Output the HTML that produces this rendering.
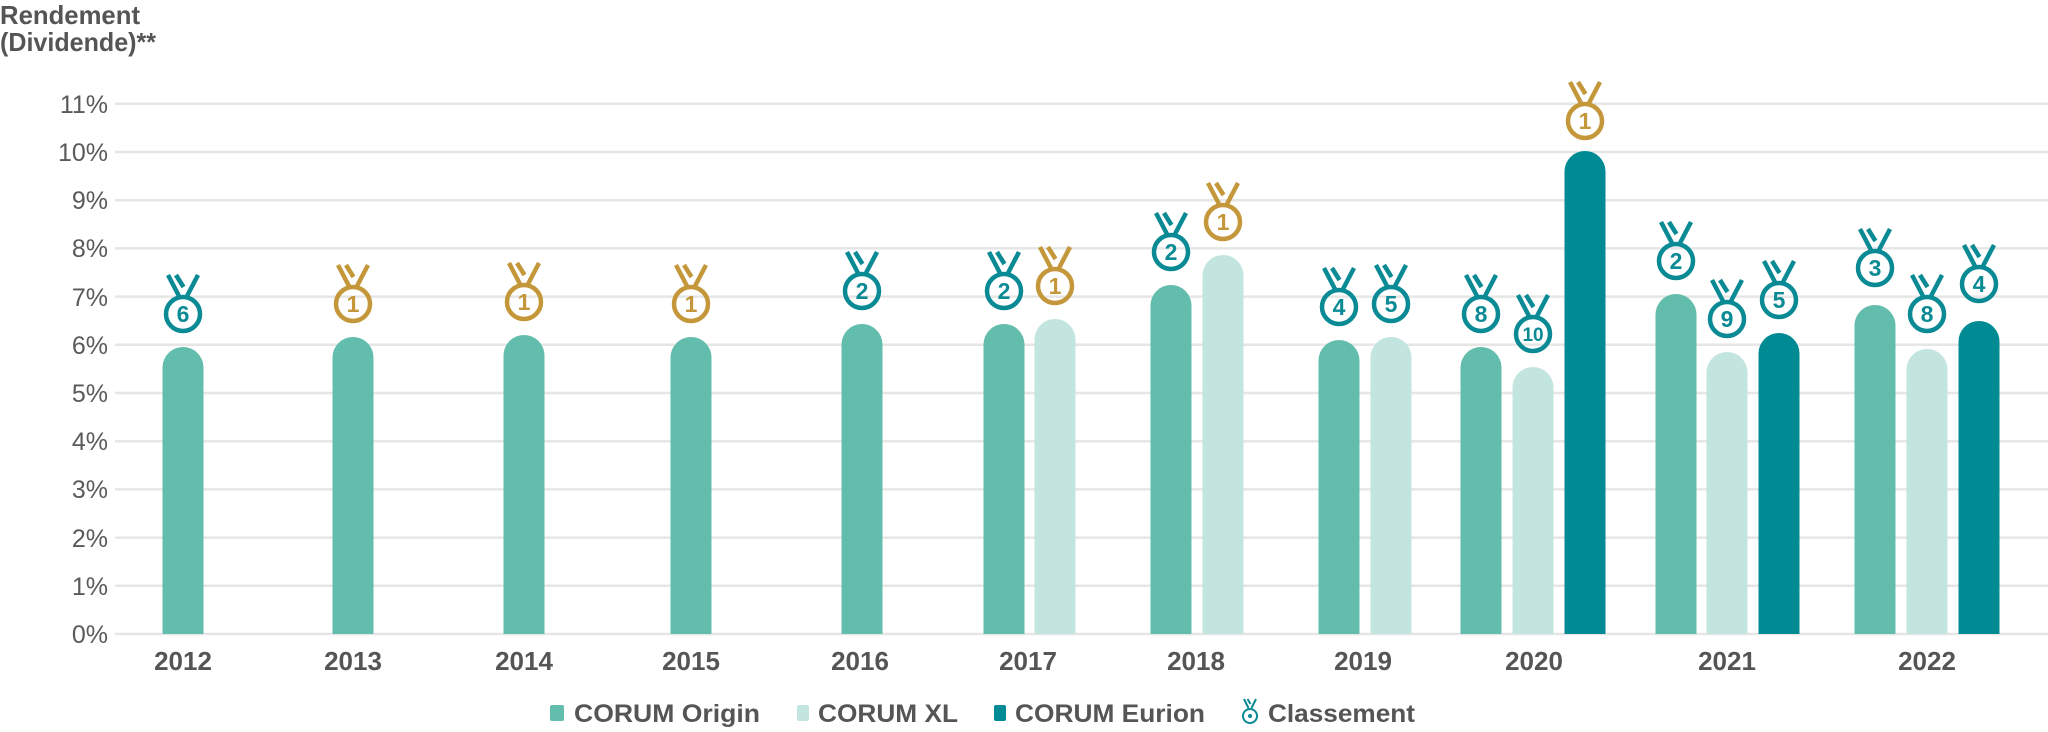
<!DOCTYPE html>
<html><head><meta charset="utf-8"><style>
html,body{margin:0;padding:0;background:#fff;}
svg{display:block;font-family:"Liberation Sans",sans-serif;}
</style></head><body>
<svg width="2048" height="732" viewBox="0 0 2048 732" xmlns="http://www.w3.org/2000/svg">
<defs>
<g id="rib"><path d="M-15,-39 L-3.5,-17 M15,-39 L3.5,-17 M-7,-39 L0.5,-27" fill="none" stroke-width="4.5"/></g>
</defs>
<text x="0" y="24" font-size="26" font-weight="bold" fill="#555" textLength="140" lengthAdjust="spacingAndGlyphs">Rendement</text>
<text x="0" y="51" font-size="26" font-weight="bold" fill="#555" textLength="156" lengthAdjust="spacingAndGlyphs">(Dividende)**</text>
<g stroke="#e6e6e6" stroke-width="2.5">
<line x1="115" x2="2048" y1="634" y2="634"/><line x1="115" x2="2048" y1="585.8" y2="585.8"/>
<line x1="115" x2="2048" y1="537.6" y2="537.6"/><line x1="115" x2="2048" y1="489.4" y2="489.4"/>
<line x1="115" x2="2048" y1="441.2" y2="441.2"/><line x1="115" x2="2048" y1="393" y2="393"/>
<line x1="115" x2="2048" y1="344.8" y2="344.8"/><line x1="115" x2="2048" y1="296.6" y2="296.6"/>
<line x1="115" x2="2048" y1="248.4" y2="248.4"/><line x1="115" x2="2048" y1="200.2" y2="200.2"/>
<line x1="115" x2="2048" y1="152" y2="152"/><line x1="115" x2="2048" y1="103.8" y2="103.8"/>
</g>
<g font-size="25" fill="#5a5a5a" text-anchor="end">
<text x="108" y="643">0%</text><text x="108" y="595">1%</text><text x="108" y="547">2%</text>
<text x="108" y="498">3%</text><text x="108" y="450">4%</text><text x="108" y="402">5%</text>
<text x="108" y="354">6%</text><text x="108" y="306">7%</text><text x="108" y="257">8%</text>
<text x="108" y="209">9%</text><text x="108" y="161">10%</text><text x="108" y="113">11%</text>
</g>
<g font-size="26" font-weight="bold" fill="#555" text-anchor="middle">
<text x="183" y="670">2012</text><text x="353" y="670">2013</text><text x="524" y="670">2014</text>
<text x="691" y="670">2015</text><text x="860" y="670">2016</text><text x="1028" y="670">2017</text>
<text x="1196" y="670">2018</text><text x="1363" y="670">2019</text><text x="1534" y="670">2020</text>
<text x="1727" y="670">2021</text><text x="1927" y="670">2022</text>
</g>
<g id="bars">
<path fill="#63bdac" d="M162.5,634 V367.5 a20.5,20.5 0 0 1 41,0 V634 Z"/>
<path fill="#63bdac" d="M332.5,634 V357.5 a20.5,20.5 0 0 1 41,0 V634 Z"/>
<path fill="#63bdac" d="M503.5,634 V355.5 a20.5,20.5 0 0 1 41,0 V634 Z"/>
<path fill="#63bdac" d="M670.5,634 V357.5 a20.5,20.5 0 0 1 41,0 V634 Z"/>
<path fill="#63bdac" d="M841.5,634 V344.5 a20.5,20.5 0 0 1 41,0 V634 Z"/>
<path fill="#63bdac" d="M983.5,634 V344.5 a20.5,20.5 0 0 1 41,0 V634 Z"/>
<path fill="#c3e5df" d="M1034.5,634 V339.5 a20.5,20.5 0 0 1 41,0 V634 Z"/>
<path fill="#63bdac" d="M1150.5,634 V305.5 a20.5,20.5 0 0 1 41,0 V634 Z"/>
<path fill="#c3e5df" d="M1202.5,634 V275.5 a20.5,20.5 0 0 1 41,0 V634 Z"/>
<path fill="#63bdac" d="M1318.5,634 V360.5 a20.5,20.5 0 0 1 41,0 V634 Z"/>
<path fill="#c3e5df" d="M1370.5,634 V357.5 a20.5,20.5 0 0 1 41,0 V634 Z"/>
<path fill="#63bdac" d="M1460.5,634 V367.5 a20.5,20.5 0 0 1 41,0 V634 Z"/>
<path fill="#c3e5df" d="M1512.5,634 V387.5 a20.5,20.5 0 0 1 41,0 V634 Z"/>
<path fill="#008a93" d="M1564.5,634 V171.5 a20.5,20.5 0 0 1 41,0 V634 Z"/>
<path fill="#63bdac" d="M1655.5,634 V314.5 a20.5,20.5 0 0 1 41,0 V634 Z"/>
<path fill="#c3e5df" d="M1706.5,634 V372.5 a20.5,20.5 0 0 1 41,0 V634 Z"/>
<path fill="#008a93" d="M1758.5,634 V353.5 a20.5,20.5 0 0 1 41,0 V634 Z"/>
<path fill="#63bdac" d="M1854.5,634 V325.5 a20.5,20.5 0 0 1 41,0 V634 Z"/>
<path fill="#c3e5df" d="M1906.5,634 V369.5 a20.5,20.5 0 0 1 41,0 V634 Z"/>
<path fill="#008a93" d="M1958.5,634 V341.5 a20.5,20.5 0 0 1 41,0 V634 Z"/>
</g>
<g font-size="23" font-weight="bold" text-anchor="middle">
<g transform="translate(183,314)" stroke="#0a8a94" fill="#0a8a94"><use href="#rib"/><circle r="17" fill="none" stroke-width="4.5"/><text y="8" stroke="none">6</text></g>
<g transform="translate(353,304)" stroke="#c4973a" fill="#c4973a"><use href="#rib"/><circle r="17" fill="none" stroke-width="4.5"/><text y="8" stroke="none">1</text></g>
<g transform="translate(524,302)" stroke="#c4973a" fill="#c4973a"><use href="#rib"/><circle r="17" fill="none" stroke-width="4.5"/><text y="8" stroke="none">1</text></g>
<g transform="translate(691,304)" stroke="#c4973a" fill="#c4973a"><use href="#rib"/><circle r="17" fill="none" stroke-width="4.5"/><text y="8" stroke="none">1</text></g>
<g transform="translate(862,291)" stroke="#0a8a94" fill="#0a8a94"><use href="#rib"/><circle r="17" fill="none" stroke-width="4.5"/><text y="8" stroke="none">2</text></g>
<g transform="translate(1004,291)" stroke="#0a8a94" fill="#0a8a94"><use href="#rib"/><circle r="17" fill="none" stroke-width="4.5"/><text y="8" stroke="none">2</text></g>
<g transform="translate(1055,286)" stroke="#c4973a" fill="#c4973a"><use href="#rib"/><circle r="17" fill="none" stroke-width="4.5"/><text y="8" stroke="none">1</text></g>
<g transform="translate(1171,252)" stroke="#0a8a94" fill="#0a8a94"><use href="#rib"/><circle r="17" fill="none" stroke-width="4.5"/><text y="8" stroke="none">2</text></g>
<g transform="translate(1223,222)" stroke="#c4973a" fill="#c4973a"><use href="#rib"/><circle r="17" fill="none" stroke-width="4.5"/><text y="8" stroke="none">1</text></g>
<g transform="translate(1339,307)" stroke="#0a8a94" fill="#0a8a94"><use href="#rib"/><circle r="17" fill="none" stroke-width="4.5"/><text y="8" stroke="none">4</text></g>
<g transform="translate(1391,304)" stroke="#0a8a94" fill="#0a8a94"><use href="#rib"/><circle r="17" fill="none" stroke-width="4.5"/><text y="8" stroke="none">5</text></g>
<g transform="translate(1481,314)" stroke="#0a8a94" fill="#0a8a94"><use href="#rib"/><circle r="17" fill="none" stroke-width="4.5"/><text y="8" stroke="none">8</text></g>
<g transform="translate(1533,334)" stroke="#0a8a94" fill="#0a8a94"><use href="#rib"/><circle r="17" fill="none" stroke-width="4.5"/><text y="7" stroke="none" font-size="19">10</text></g>
<g transform="translate(1585,121)" stroke="#c4973a" fill="#c4973a"><use href="#rib"/><circle r="17" fill="none" stroke-width="4.5"/><text y="8" stroke="none">1</text></g>
<g transform="translate(1676,261)" stroke="#0a8a94" fill="#0a8a94"><use href="#rib"/><circle r="17" fill="none" stroke-width="4.5"/><text y="8" stroke="none">2</text></g>
<g transform="translate(1727,319)" stroke="#0a8a94" fill="#0a8a94"><use href="#rib"/><circle r="17" fill="none" stroke-width="4.5"/><text y="8" stroke="none">9</text></g>
<g transform="translate(1779,300)" stroke="#0a8a94" fill="#0a8a94"><use href="#rib"/><circle r="17" fill="none" stroke-width="4.5"/><text y="8" stroke="none">5</text></g>
<g transform="translate(1875,268)" stroke="#0a8a94" fill="#0a8a94"><use href="#rib"/><circle r="17" fill="none" stroke-width="4.5"/><text y="8" stroke="none">3</text></g>
<g transform="translate(1927,314)" stroke="#0a8a94" fill="#0a8a94"><use href="#rib"/><circle r="17" fill="none" stroke-width="4.5"/><text y="8" stroke="none">8</text></g>
<g transform="translate(1979,284)" stroke="#0a8a94" fill="#0a8a94"><use href="#rib"/><circle r="17" fill="none" stroke-width="4.5"/><text y="8" stroke="none">4</text></g>
</g>
<g font-size="25" font-weight="bold" fill="#555">
<rect x="550" y="705" width="14" height="16" rx="2" fill="#63bdac"/>
<text x="574" y="722" textLength="186" lengthAdjust="spacingAndGlyphs">CORUM Origin</text>
<rect x="797" y="705" width="12" height="16" rx="2" fill="#c3e5df"/>
<text x="818" y="722" textLength="140" lengthAdjust="spacingAndGlyphs">CORUM XL</text>
<rect x="994" y="705" width="12" height="16" rx="2" fill="#008a93"/>
<text x="1015" y="722" textLength="190" lengthAdjust="spacingAndGlyphs">CORUM Eurion</text>
<g transform="translate(1250,716)" stroke="#0a8a94" fill="none" stroke-width="2">
<path d="M-6,-17 L-1.5,-8 M6,-17 L1.5,-8 M-2.5,-17 L0.5,-12"/><circle r="7"/><circle r="2" fill="#0a8a94" stroke="none"/></g>
<text x="1268" y="722" textLength="147" lengthAdjust="spacingAndGlyphs">Classement</text>
</g>
</svg>
</body></html>
